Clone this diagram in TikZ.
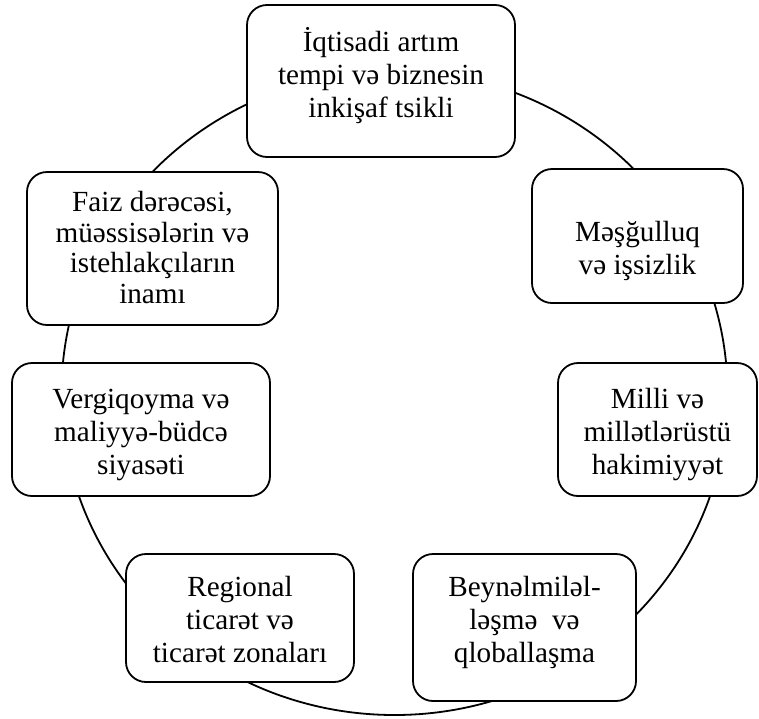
\documentclass[tikz,border=0pt]{standalone}
\usepackage{fontspec}
\setmainfont{Liberation Serif}
\begin{document}
\begin{tikzpicture}[x=1pt,y=-1pt,
  ring/.style={draw, line width=1.8pt},
  box/.style={draw, line width=1.8pt, rounded corners=20pt, fill=white,
    inner sep=0pt},
  txt/.style={inner sep=0pt, anchor=base,
    font=\fontsize{29.2}{33}\selectfont},
  tight/.style={font=\fontsize{29.2}{30.5}\selectfont}]
\useasboundingbox (0,0) rectangle (759,718);

% the ring that links all factors
\draw[ring] (394.5,393) ellipse [x radius=333pt, y radius=322pt];

% factor boxes
\node[box, minimum width=268pt, minimum height=152pt] (growth) at (381,81) {};
\node[box, minimum width=211pt, minimum height=134pt] (jobs) at (637.5,236) {};
\node[box, minimum width=199pt, minimum height=133pt] (power) at (657.5,429.5) {};
\node[box, minimum width=223pt, minimum height=147pt] (global) at (524.5,627.5) {};
\node[box, minimum width=228pt, minimum height=128pt] (trade) at (240,618) {};
\node[box, minimum width=258pt, minimum height=133pt] (tax) at (141,429.5) {};
\node[box, minimum width=251pt, minimum height=153pt] (rate) at (152.5,248.5) {};

% box texts, placed on the baseline of their first line
\node[txt] (growth-t) at (381,51)
  {\begin{tabular}[t]{@{}c@{}}İqtisadi artım\\tempi və biznesin\\inkişaf tsikli\end{tabular}};
\node[txt] (jobs-t) at (637.5,241)
  {\begin{tabular}[t]{@{}c@{}}Məşğulluq\\və işsizlik\end{tabular}};
\node[txt] (power-t) at (657.5,408)
  {\begin{tabular}[t]{@{}c@{}}Milli və\\millətlərüstü\\hakimiyyət\end{tabular}};
\node[txt] (global-t) at (524.5,596)
  {\begin{tabular}[t]{@{}c@{}}Beynəlmiləl-\\ləşmə\ \ və\\qloballaşma\end{tabular}};
\node[txt] (trade-t) at (240,596)
  {\begin{tabular}[t]{@{}c@{}}Regional\\ticarət və\\ticarət zonaları\end{tabular}};
\node[txt] (tax-t) at (141,408)
  {\begin{tabular}[t]{@{}c@{}}Vergiqoyma və\\maliyyə-büdcə\\siyasəti\end{tabular}};
\node[txt, tight] (rate-t) at (152.5,211.5)
  {\begin{tabular}[t]{@{}c@{}}Faiz dərəcəsi,\\müəssisələrin və\\istehlakçıların\\inamı\end{tabular}};
\end{tikzpicture}
\end{document}
